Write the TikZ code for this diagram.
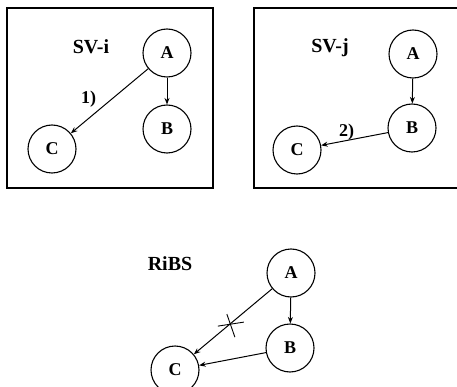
\documentclass[tikz,border=0pt]{standalone}
\usepackage{fontspec}
\setmainfont{Liberation Serif}
\usetikzlibrary{arrows.meta,calc}

\begin{document}
\begin{tikzpicture}[
  x=1pt, y=-1pt,
  font=\fontsize{18}{20}\selectfont\bfseries,
  state/.style={draw, circle, line width=1.1pt, minimum size=48pt, inner sep=0pt},
  arr/.style={-{Stealth[length=6.5pt,width=5pt]}, line width=1pt},
  panel/.style={draw, line width=1.2pt, inner sep=0pt, minimum height=180pt},
  title/.style={font=\fontsize{20}{22}\selectfont\bfseries},
  cut/.style={line width=0.9pt}
]
\useasboundingbox (0,0) rectangle (457,387);

\node[panel, minimum width=206pt] (svipanel) at (110,98) {};
\node[panel, minimum width=216pt] (svjpanel) at (362,98) {};

\node[title] (svi) at (91,47) {SV-i};
\node[state] (sviA) at (167,53) {A};
\node[state] (sviB) at (167,129) {B};
\node[state] (sviC) at (52,149) {C};
\draw[arr] (sviA) -- node[midway, xshift=-21pt, yshift=2pt]{1)} (sviC);
\draw[arr] (sviA) -- (sviB);

\node[title] (svj) at (330,48) {SV-j};
\node[state] (svjA) at (413,54) {A};
\node[state] (svjB) at (412,128) {B};
\node[state] (svjC) at (297,150) {C};
\draw[arr] (svjA) -- (svjB);
\draw[arr] (svjB) -- node[midway, xshift=-8pt, yshift=7pt]{2)} (svjC);

\node[title] (ribs) at (170,264) {RiBS};
\node[state] (ribsA) at (291,273) {A};
\node[state] (ribsB) at (290,348) {B};
\node[state] (ribsC) at (175,370) {C};
\draw[arr] (ribsA) -- (ribsB);
\draw[arr] (ribsB) -- (ribsC);
\draw[arr] (ribsA) -- coordinate[pos=0.54] (cross) (ribsC);
\draw[cut] ($(cross)+(-12,2)$) -- ($(cross)+(14,-2)$);
\draw[cut] ($(cross)+(-3,-10)$) -- ($(cross)+(5,13)$);
\end{tikzpicture}
\end{document}
